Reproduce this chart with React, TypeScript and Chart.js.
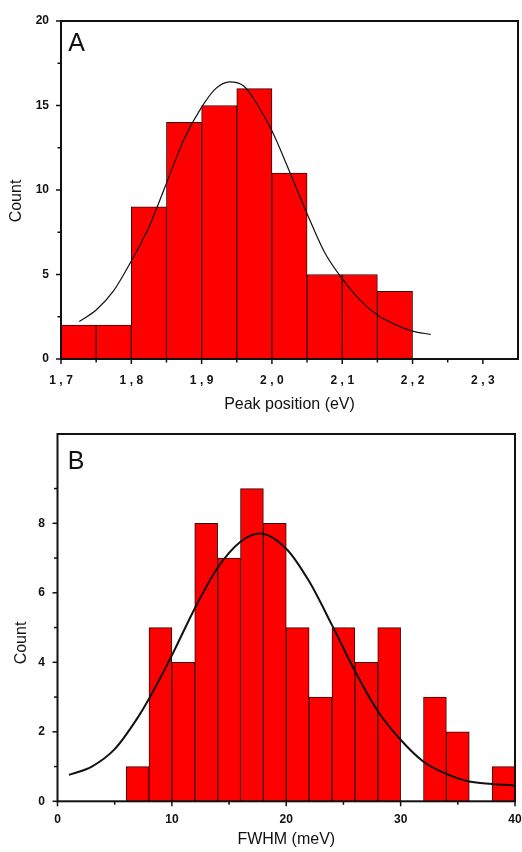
import React, { useEffect, useRef } from 'react';
import { Chart, registerables } from 'chart.js';

Chart.register(...registerables);

// ---------- Panel A : peak position ----------
const peakBinStarts = [1.7, 1.75, 1.8, 1.85, 1.9, 1.95, 2.0, 2.05, 2.1, 2.15];
const peakCounts = [2, 2, 9, 14, 15, 16, 11, 5, 5, 4];
const peakBinWidth = 0.05;
const peakFitX = [1.726, 1.75, 1.775, 1.8, 1.825, 1.85, 1.875, 1.9, 1.92, 1.94, 1.96, 1.98, 2.0, 2.025, 2.05, 2.075, 2.1, 2.125, 2.15, 2.175, 2.2, 2.226];
const peakFitY = [2.22, 2.9, 4.05, 5.8, 7.8, 10.4, 13.0, 14.9, 16.0, 16.4, 16.15, 15.0, 13.5, 11.1, 8.6, 6.3, 4.75, 3.5, 2.6, 2.05, 1.65, 1.45];
const peakXTicks = [1.7, 1.8, 1.9, 2.0, 2.1, 2.2, 2.3];
const peakXMinor = [1.75, 1.85, 1.95, 2.05, 2.15, 2.25];
const peakYTicks = [0, 5, 10, 15, 20];
const peakYMinor = [2.5, 7.5, 12.5, 17.5];
const peakXTitle = 'Peak position (eV)';
const peakYTitle = 'Count';
const peakLetter = 'A';

// ---------- Panel B : FWHM ----------
const fwhmBinStarts = [6, 8, 10, 12, 14, 16, 18, 20, 22, 24, 26, 28, 30, 32, 34, 36, 38];
const fwhmCounts = [1, 5, 4, 8, 7, 9, 8, 5, 3, 5, 4, 5, 0, 3, 2, 0, 1];
const fwhmBinWidth = 2;
const fwhmFitX = [1, 3, 5, 7, 8, 10, 12, 14, 16, 17.7, 20, 22, 24, 26, 28, 30, 32, 34, 36, 38, 40];
const fwhmFitY = [0.76, 1.0, 1.5, 2.4, 2.95, 4.2, 5.55, 6.72, 7.47, 7.71, 7.27, 6.33, 5.07, 3.75, 2.6, 1.77, 1.14, 0.79, 0.57, 0.5, 0.45];
const fwhmXTicks = [0, 10, 20, 30, 40];
const fwhmXMinor = [5, 15, 25, 35];
const fwhmYTicks = [0, 2, 4, 6, 8];
const fwhmYMinor = [1, 3, 5, 7, 9];
const fwhmXTitle = 'FWHM (meV)';
const fwhmYTitle = 'Count';
const fwhmLetter = 'B';

const FONT = "'Liberation Sans', Arial, Helvetica, sans-serif";
const INK = '#111111';

const framePlugin = {
  id: 'frame',
  afterDatasetsDraw(chart: any, _args: any, opts: any) {
    const { ctx, chartArea } = chart;
    const xs = chart.scales.x;
    const ys = chart.scales.y;
    ctx.save();
    ctx.strokeStyle = INK;
    ctx.lineWidth = 1.5;
    const drawX = (v: number, len: number) => {
      const px = xs.getPixelForValue(v);
      ctx.beginPath();
      ctx.moveTo(px, chartArea.bottom);
      ctx.lineTo(px, chartArea.bottom + len);
      ctx.stroke();
    };
    const drawY = (v: number, len: number) => {
      const py = ys.getPixelForValue(v);
      ctx.beginPath();
      ctx.moveTo(chartArea.left, py);
      ctx.lineTo(chartArea.left - len, py);
      ctx.stroke();
    };
    opts.xMajor.forEach((v: number) => drawX(v, 5));
    opts.xMinor.forEach((v: number) => drawX(v, 3.5));
    opts.yMajor.forEach((v: number) => drawY(v, 5));
    opts.yMinor.forEach((v: number) => drawY(v, 3.5));
    ctx.lineWidth = 2;
    ctx.strokeRect(chartArea.left, chartArea.top, chartArea.right - chartArea.left, chartArea.bottom - chartArea.top);
    ctx.fillStyle = INK;
    ctx.textAlign = 'center';
    ctx.textBaseline = 'middle';
    ctx.font = `16px ${FONT}`;
    ctx.fillText(opts.xTitle, opts.xTitlePos[0], opts.xTitlePos[1]);
    ctx.save();
    ctx.translate(opts.yTitlePos[0], opts.yTitlePos[1]);
    ctx.rotate(-Math.PI / 2);
    ctx.fillText(opts.yTitle, 0, 0);
    ctx.restore();
    ctx.font = `25px ${FONT}`;
    ctx.fillText(opts.letter, opts.letterPos[0], opts.letterPos[1]);
    ctx.restore();
    // x tick labels (drawn next, on layer z=1) get the wide letter spacing of the original
    if (opts.xLetterSpacing) {
      ctx.save();
      ctx.letterSpacing = `${opts.xLetterSpacing}px`;
      ctx.translate(opts.xLetterSpacing / 2, 0);
    }
  },
  afterDraw(chart: any, _args: any, opts: any) {
    if (opts.xLetterSpacing) {
      chart.ctx.restore();
      chart.ctx.letterSpacing = '0px';
    }
  },
};

function makeConfig(p: any) {
  const bars = p.binStarts.map((s: number, i: number) => ({ x: s + p.binWidth / 2, y: p.counts[i] }));
  const fit = p.fitX.map((x: number, i: number) => ({ x, y: p.fitY[i] }));
  const tickFont = { family: FONT, size: 12, weight: 'bold' as const };
  return {
    type: 'bar' as const,
    data: {
      datasets: [
        {
          type: 'line' as const,
          data: fit,
          borderColor: INK,
          borderWidth: p.curveWidth,
          pointRadius: 0,
          fill: false,
          cubicInterpolationMode: 'monotone' as const,
          order: 0,
        },
        {
          type: 'bar' as const,
          data: bars,
          backgroundColor: '#ff0000',
          borderColor: '#3c0606',
          borderWidth: 1,
          barPercentage: 1,
          categoryPercentage: 1,
          order: 1,
        },
      ],
    },
    options: {
      responsive: false,
      animation: false as const,
      events: [],
      layout: { padding: p.padding },
      plugins: {
        legend: { display: false },
        tooltip: { enabled: false },
        frame: p.frame,
      },
      scales: {
        x: {
          type: 'linear' as const,
          min: p.xMin,
          max: p.xMax,
          offset: false,
          grid: { display: false, drawTicks: false, offset: false },
          border: { display: false },
          afterBuildTicks: (s: any) => { s.ticks = p.xTicks.map((v: number) => ({ value: v })); },
          afterFit: (s: any) => { s.height = p.xHeight; s.paddingLeft = 0; s.paddingRight = 0; },
          ticks: {
            font: tickFont,
            color: INK,
            padding: p.xTickPad,
            maxRotation: 0,
            autoSkip: false,
            z: 1,
            callback: p.xFormat,
          },
        },
        y: {
          type: 'linear' as const,
          min: 0,
          max: p.yMax,
          grid: { display: false, drawTicks: false },
          border: { display: false },
          afterBuildTicks: (s: any) => { s.ticks = p.yTicks.map((v: number) => ({ value: v })); },
          afterFit: (s: any) => { s.width = p.yWidth; s.paddingTop = 0; s.paddingBottom = 0; },
          ticks: {
            font: tickFont,
            color: INK,
            padding: p.yTickPad,
            autoSkip: false,
            callback: (v: any) => String(v),
          },
        },
      },
    },
    plugins: [framePlugin],
  };
}

export default function App() {
  const refA = useRef<HTMLCanvasElement>(null);
  const refB = useRef<HTMLCanvasElement>(null);

  useEffect(() => {
    const chartA = new Chart(refA.current as HTMLCanvasElement, makeConfig({
      binStarts: peakBinStarts,
      counts: peakCounts,
      binWidth: peakBinWidth,
      fitX: peakFitX,
      fitY: peakFitY,
      curveWidth: 1.2,
      padding: { left: 0, top: 21, right: 4, bottom: 0 },
      xHeight: 61,
      yWidth: 61,
      xMin: 1.7,
      xMax: 2.35,
      yMax: 20,
      xTicks: peakXTicks,
      yTicks: peakYTicks,
      xTickPad: 14,
      yTickPad: 12,
      xFormat: (v: any) => Number(v).toFixed(1).replace('.', ','),
      frame: {
        xMajor: peakXTicks, xMinor: peakXMinor, yMajor: peakYTicks, yMinor: peakYMinor,
        xTitle: peakXTitle, yTitle: peakYTitle, letter: peakLetter,
        xTitlePos: [289.5, 405], yTitlePos: [17, 201], letterPos: [76.5, 44],
        xLetterSpacing: 3.5,
      },
    }) as any);

    const chartB = new Chart(refB.current as HTMLCanvasElement, makeConfig({
      binStarts: fwhmBinStarts,
      counts: fwhmCounts,
      binWidth: fwhmBinWidth,
      fitX: fwhmFitX,
      fitY: fwhmFitY,
      curveWidth: 2,
      padding: { left: 0, top: 14, right: 7, bottom: 0 },
      xHeight: 50.7,
      yWidth: 57.5,
      xMin: 0,
      xMax: 40,
      yMax: 10.57,
      xTicks: fwhmXTicks,
      yTicks: fwhmYTicks,
      xTickPad: 11.5,
      yTickPad: 12.5,
      xFormat: (v: any) => String(v),
      frame: {
        xMajor: fwhmXTicks, xMinor: fwhmXMinor, yMajor: fwhmYTicks, yMinor: fwhmYMinor,
        xTitle: fwhmXTitle, yTitle: fwhmYTitle, letter: fwhmLetter,
        xTitlePos: [286.3, 419.5], yTitlePos: [22, 223], letterPos: [76, 42],
        xLetterSpacing: 0,
      },
    }) as any);

    return () => {
      chartA.destroy();
      chartB.destroy();
    };
  }, []);

  return (
    <div style={{ position: 'absolute', left: 0, top: 0, width: 522, height: 852, background: '#ffffff' }}>
      <canvas ref={refA} width={522} height={420} style={{ position: 'absolute', left: 0, top: 0, display: 'block' }} />
      <canvas ref={refB} width={522} height={432} style={{ position: 'absolute', left: 0, top: 420, display: 'block' }} />
    </div>
  );
}
